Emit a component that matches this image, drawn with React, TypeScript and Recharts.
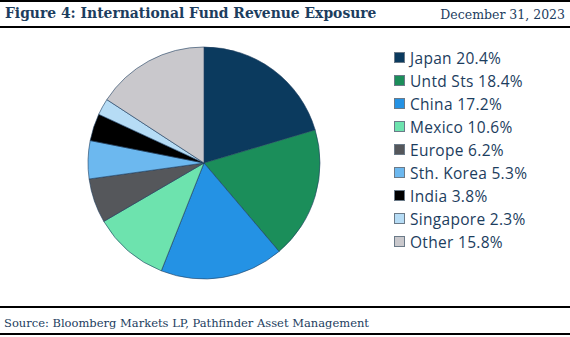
import React from 'react';
import { PieChart, Pie, Cell } from 'recharts';

const regions = ['Japan', 'Untd Sts', 'China', 'Mexico', 'Europe', 'Sth. Korea', 'India', 'Singapore', 'Other'];
const shares = [20.4, 18.4, 17.2, 10.6, 6.2, 5.3, 3.8, 2.3, 15.8];
const colors = ['#0b3a5e', '#1b8e5a', '#2492e4', '#6de3ae', '#55575b', '#6cb8ef', '#000000', '#b6dcf5', '#c9c8cc'];

const data = regions.map((name, i) => ({ name, value: shares[i], color: colors[i] }));

const navy = '#1c3d5e';
const serif = '"DejaVu Serif", "Liberation Serif", serif';

function LegendList() {
  return (
    <div style={{ fontFamily: '"Open Sans", "Noto Sans", sans-serif', fontSize: 15.5, letterSpacing: 0.3, color: navy }}>
      {data.map((d) => (
        <div key={d.name} style={{ display: 'flex', alignItems: 'center', height: 23, whiteSpace: 'nowrap' }}>
          <span style={{ width: 9, height: 9, background: d.color, border: '1px solid #6b7a88', marginRight: 5, display: 'inline-block', flex: 'none' }} />
          <span>{d.name} {d.value.toFixed(1)}%</span>
        </div>
      ))}
    </div>
  );
}

export default function App() {
  return (
    <div style={{ position: 'absolute', left: 0, top: 0, width: 570, height: 337, background: '#fff', overflow: 'hidden' }}>
      <div style={{ position: 'absolute', left: 0, top: 0, width: 570, height: 2, background: '#000' }} />
      <div style={{ position: 'absolute', left: 5, top: 5, fontFamily: serif, fontWeight: 'bold', fontSize: 13.9, color: navy, whiteSpace: 'nowrap' }}>
        Figure 4: International Fund Revenue Exposure
      </div>
      <div style={{ position: 'absolute', right: 5, top: 7, fontFamily: serif, fontSize: 12.5, color: navy, whiteSpace: 'nowrap' }}>
        December 31, 2023
      </div>
      <div style={{ position: 'absolute', left: 0, top: 26, width: 570, height: 2, background: '#000' }} />
      <PieChart width={570} height={337} style={{ position: 'absolute', left: 0, top: 0 }}>
        <Pie
          data={data}
          dataKey="value"
          nameKey="name"
          cx={199}
          cy={158}
          outerRadius={116}
          startAngle={90}
          endAngle={-270}
          stroke="#1c3d5e"
          strokeWidth={0.6}
          isAnimationActive={false}
        >
          {data.map((d, i) => (
            <Cell key={`cell-${i}`} fill={d.color} />
          ))}
        </Pie>
      </PieChart>
      <div style={{ position: 'absolute', left: 394, top: 46 }}>
        <LegendList />
      </div>
      <div style={{ position: 'absolute', left: 0, top: 306, width: 570, height: 2, background: '#000' }} />
      <div style={{ position: 'absolute', left: 4, top: 316, fontFamily: serif, fontSize: 11.5, color: navy, whiteSpace: 'nowrap' }}>
        Source: Bloomberg Markets LP, Pathfinder Asset Management
      </div>
      <div style={{ position: 'absolute', left: 0, top: 333, width: 570, height: 2, background: '#000' }} />
    </div>
  );
}
